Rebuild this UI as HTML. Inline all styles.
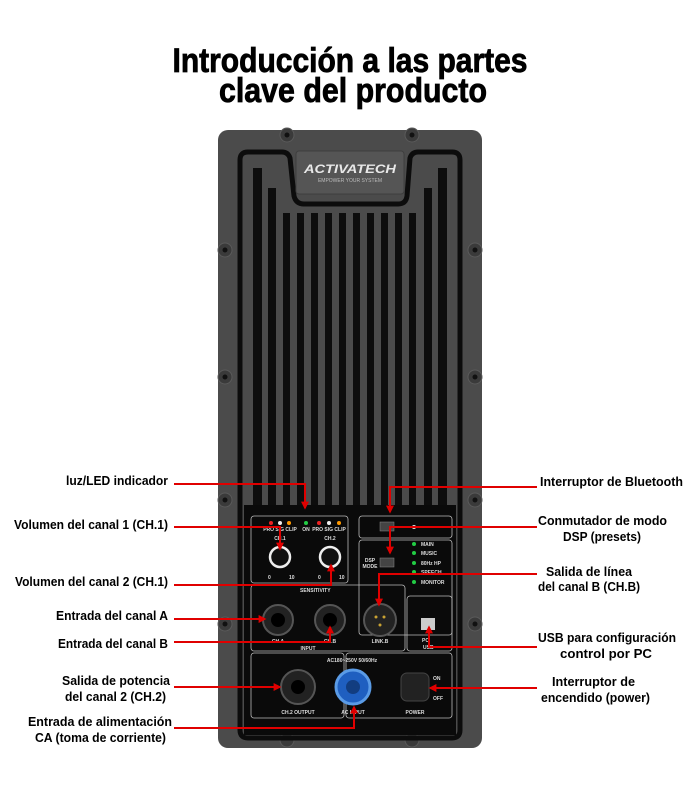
<!DOCTYPE html>
<html><head><meta charset="utf-8"><style>
html,body{margin:0;padding:0;background:#fff}
svg{display:block}
.t{font-family:"Liberation Sans",sans-serif;font-weight:bold;fill:#000}
.s{font-family:"Liberation Sans",sans-serif;font-weight:bold;fill:#ddd;font-size:5px}
</style></head><body>
<svg width="700" height="800" viewBox="0 0 700 800" xmlns="http://www.w3.org/2000/svg">
<defs>
<marker id="ar" viewBox="0 0 10 10" refX="8" refY="5" markerWidth="4" markerHeight="4" orient="auto"><path d="M0,0L10,5L0,10z" fill="#e00000"/></marker>
</defs>
<text class="t" x="350" y="72" font-size="34" text-anchor="middle" textLength="355" lengthAdjust="spacingAndGlyphs" stroke="#000" stroke-width="0.8">Introducción a las partes</text>
<text class="t" x="353" y="102" font-size="34" text-anchor="middle" textLength="268" lengthAdjust="spacingAndGlyphs" stroke="#000" stroke-width="0.8">clave del producto</text>

<!-- panel -->
<rect x="218" y="130" width="264" height="618" rx="10" fill="#4b4b4b"/>
<g fill="#3a3a3a" stroke="#5a5a5a" stroke-width="1">
<circle cx="287" cy="135" r="7"/><circle cx="412" cy="135" r="7"/>
<circle cx="225" cy="250" r="7"/><circle cx="475" cy="250" r="7"/>
<circle cx="225" cy="377" r="7"/><circle cx="475" cy="377" r="7"/>
<circle cx="225" cy="500" r="7"/><circle cx="475" cy="500" r="7"/>
<circle cx="225" cy="624" r="7"/><circle cx="475" cy="624" r="7"/>
<circle cx="287" cy="740" r="7"/><circle cx="412" cy="740" r="7"/>
</g>
<g fill="#111"><circle cx="287" cy="135" r="2.5"/><circle cx="412" cy="135" r="2.5"/><circle cx="225" cy="250" r="2.5"/><circle cx="475" cy="250" r="2.5"/><circle cx="225" cy="377" r="2.5"/><circle cx="475" cy="377" r="2.5"/><circle cx="225" cy="500" r="2.5"/><circle cx="475" cy="500" r="2.5"/><circle cx="225" cy="624" r="2.5"/><circle cx="475" cy="624" r="2.5"/></g>
<path d="M248,152 L282,152 Q288,152 290,158 L294,196 Q296,204 304,204 L398,204 Q406,204 407,196 L410,158 Q412,152 418,152 L452,152 Q460,152 460,160 L460,730 Q460,738 452,738 L248,738 Q240,738 240,730 L240,160 Q240,152 248,152Z" fill="none" stroke="#0c0c0c" stroke-width="5"/>
<rect x="296" y="151" width="108" height="43" rx="3" fill="#555" stroke="#3e3e3e"/>
<text x="350" y="173" font-family="Liberation Sans" font-weight="bold" font-style="italic" font-size="12" fill="#e8e8e8" text-anchor="middle" textLength="92" lengthAdjust="spacingAndGlyphs">ACTIVATECH</text>
<text x="350" y="182" font-family="Liberation Sans" font-size="5" fill="#bbb" text-anchor="middle">EMPOWER YOUR SYSTEM</text>
<g fill="#0d0d0d">
<rect x="253" y="168" width="9" height="340"/><rect x="268" y="188" width="8" height="320"/>
<rect x="424" y="188" width="8" height="320"/><rect x="438" y="168" width="9" height="340"/>
<rect x="283" y="213" width="7" height="295"/><rect x="297" y="213" width="7" height="295"/><rect x="311" y="213" width="7" height="295"/><rect x="325" y="213" width="7" height="295"/><rect x="339" y="213" width="7" height="295"/><rect x="353" y="213" width="7" height="295"/><rect x="367" y="213" width="7" height="295"/><rect x="381" y="213" width="7" height="295"/><rect x="395" y="213" width="7" height="295"/><rect x="409" y="213" width="7" height="295"/>
</g>
<rect x="244" y="505" width="212" height="230" fill="#0a0a0a"/>
<g fill="none" stroke="#bbb" stroke-width="0.8">
<rect x="251" y="516" width="97" height="67" rx="3"/>
<rect x="359" y="516" width="93" height="22" rx="3"/>
<rect x="359" y="540" width="93" height="95" rx="3"/>
<rect x="251" y="585" width="154" height="66" rx="3"/>
<rect x="407" y="596" width="45" height="55" rx="3"/>
<rect x="251" y="653" width="93" height="65" rx="3"/>
<rect x="346" y="653" width="106" height="65" rx="3"/>
</g>
<g><circle cx="271" cy="523" r="2" fill="#e22"/><circle cx="280" cy="523" r="2" fill="#eee"/><circle cx="289" cy="523" r="2" fill="#f90"/><circle cx="306" cy="523" r="2" fill="#2c4"/><circle cx="319" cy="523" r="2" fill="#e22"/><circle cx="329" cy="523" r="2" fill="#eee"/><circle cx="339" cy="523" r="2" fill="#f90"/></g>
<text class="s" x="280" y="531" text-anchor="middle">PRO SIG CLIP</text><text class="s" x="306" y="531" text-anchor="middle">ON</text><text class="s" x="329" y="531" text-anchor="middle">PRO SIG CLIP</text>
<text class="s" x="280" y="540" text-anchor="middle">CH.1</text><text class="s" x="330" y="540" text-anchor="middle">CH.2</text>
<circle cx="280" cy="557" r="10" fill="#111" stroke="#eee" stroke-width="2.5"/><circle cx="330" cy="557" r="10" fill="#111" stroke="#eee" stroke-width="2.5"/>
<text class="s" x="268" y="579">0</text><text class="s" x="289" y="579">10</text><text class="s" x="318" y="579">0</text><text class="s" x="339" y="579">10</text>
<rect x="380" y="522" width="14" height="9" fill="#444" stroke="#888" stroke-width="0.5"/><circle cx="414" cy="527" r="2" fill="#ddd"/>
<text class="s" x="370" y="562" text-anchor="middle">DSP</text><text class="s" x="370" y="568" text-anchor="middle">MODE</text>
<rect x="380" y="558" width="14" height="9" fill="#444" stroke="#888" stroke-width="0.5"/>
<g fill="#2c4"><circle cx="414" cy="544" r="2"/><circle cx="414" cy="553" r="2"/><circle cx="414" cy="563" r="2"/><circle cx="414" cy="572" r="2"/><circle cx="414" cy="582" r="2"/></g>
<text class="s" x="421" y="546">MAIN</text><text class="s" x="421" y="555">MUSIC</text><text class="s" x="421" y="565">80Hz HP</text><text class="s" x="421" y="574">SPEECH</text><text class="s" x="421" y="584">MONITOR</text>
<text class="s" x="300" y="592">SENSITIVITY</text>
<circle cx="278" cy="620" r="15" fill="#222" stroke="#555" stroke-width="2"/><circle cx="278" cy="620" r="7" fill="#000"/>
<circle cx="330" cy="620" r="15" fill="#222" stroke="#555" stroke-width="2"/><circle cx="330" cy="620" r="7" fill="#000"/>
<circle cx="380" cy="620" r="16" fill="#222" stroke="#555" stroke-width="2"/><circle cx="376" cy="617" r="1.5" fill="#c9a233"/><circle cx="384" cy="617" r="1.5" fill="#c9a233"/><circle cx="380" cy="625" r="1.5" fill="#c9a233"/>
<text class="s" x="278" y="643" text-anchor="middle">CH.A</text><text class="s" x="330" y="643" text-anchor="middle">CH.B</text><text class="s" x="380" y="643" text-anchor="middle">LINK.B</text><text class="s" x="308" y="650" text-anchor="middle">INPUT</text>
<rect x="421" y="618" width="14" height="12" fill="#ccc"/><text class="s" x="422" y="642">PC</text><text class="s" x="423" y="649">USB</text>
<circle cx="298" cy="687" r="17" fill="#222" stroke="#555" stroke-width="2"/><circle cx="298" cy="687" r="7" fill="#000"/>
<text class="s" x="298" y="714" text-anchor="middle">CH.2 OUTPUT</text>
<circle cx="353" cy="687" r="17" fill="#1f5fc0" stroke="#5a9be6" stroke-width="3"/><circle cx="353" cy="687" r="7" fill="#123d80"/>
<text class="s" x="353" y="714" text-anchor="middle">AC INPUT</text><text class="s" x="352" y="662" text-anchor="middle">AC180~250V 50/60Hz</text>
<rect x="401" y="673" width="28" height="28" rx="6" fill="#222" stroke="#444"/>
<text class="s" x="415" y="714" text-anchor="middle">POWER</text><text class="s" x="433" y="680">ON</text><text class="s" x="433" y="700">OFF</text>

<g fill="none" stroke="#e00000" stroke-width="2">
<path d="M174,484 H305 V508" marker-end="url(#ar)"/>
<path d="M174,527 H280 V549" marker-end="url(#ar)"/>
<path d="M174,585 H331 V565" marker-end="url(#ar)"/>
<path d="M174,619 H265" marker-end="url(#ar)"/>
<path d="M174,642 H330 V627" marker-end="url(#ar)"/>
<path d="M174,687 H280" marker-end="url(#ar)"/>
<path d="M174,728 H354 V707" marker-end="url(#ar)"/>
<path d="M537,487 H390 V512" marker-end="url(#ar)"/>
<path d="M537,527 H390 V553" marker-end="url(#ar)"/>
<path d="M537,574 H379 V605" marker-end="url(#ar)"/>
<path d="M537,647 H429 V627" marker-end="url(#ar)"/>
<path d="M537,688 H430" marker-end="url(#ar)"/>
</g>

<g class="t" font-size="13" lengthAdjust="spacingAndGlyphs">
<text x="66" y="485" textLength="102" lengthAdjust="spacingAndGlyphs">luz/LED indicador</text>
<text x="14" y="529" textLength="154" lengthAdjust="spacingAndGlyphs">Volumen del canal 1 (CH.1)</text>
<text x="15" y="586" textLength="153" lengthAdjust="spacingAndGlyphs">Volumen del canal 2 (CH.1)</text>
<text x="56" y="620" textLength="112" lengthAdjust="spacingAndGlyphs">Entrada del canal A</text>
<text x="58" y="648" textLength="110" lengthAdjust="spacingAndGlyphs">Entrada del canal B</text>
<text x="62" y="685" textLength="108" lengthAdjust="spacingAndGlyphs">Salida de potencia</text>
<text x="65" y="701" textLength="101" lengthAdjust="spacingAndGlyphs">del canal 2 (CH.2)</text>
<text x="28" y="726" textLength="144" lengthAdjust="spacingAndGlyphs">Entrada de alimentación</text>
<text x="35" y="742" textLength="131" lengthAdjust="spacingAndGlyphs">CA (toma de corriente)</text>
<text x="540" y="486" textLength="143" lengthAdjust="spacingAndGlyphs">Interruptor de Bluetooth</text>
<text x="538" y="525" textLength="129" lengthAdjust="spacingAndGlyphs">Conmutador de modo</text>
<text x="563" y="541" textLength="78" lengthAdjust="spacingAndGlyphs">DSP (presets)</text>
<text x="546" y="576" textLength="86" lengthAdjust="spacingAndGlyphs">Salida de línea</text>
<text x="538" y="591" textLength="102" lengthAdjust="spacingAndGlyphs">del canal B (CH.B)</text>
<text x="538" y="642" textLength="138" lengthAdjust="spacingAndGlyphs">USB para configuración</text>
<text x="560" y="658" textLength="92" lengthAdjust="spacingAndGlyphs">control por PC</text>
<text x="552" y="686" textLength="83" lengthAdjust="spacingAndGlyphs">Interruptor de</text>
<text x="541" y="702" textLength="109" lengthAdjust="spacingAndGlyphs">encendido (power)</text>
</g>
</svg>
</body></html>
